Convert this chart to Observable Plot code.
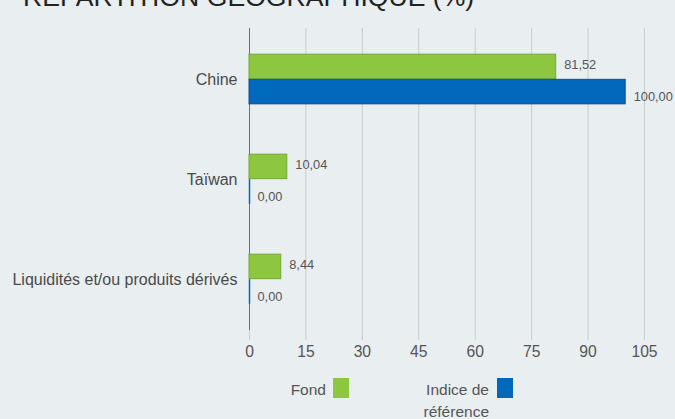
<!DOCTYPE html>
<html>
<head>
<meta charset="utf-8">
<script src="https://cdn.jsdelivr.net/npm/d3@7"></script>
<script src="https://cdn.jsdelivr.net/npm/@observablehq/plot@0.6"></script>
<style>
  html, body { margin: 0; padding: 0; }
  body { width: 675px; height: 419px; background: #e9eef1; position: relative; overflow: hidden;
         font-family: "Liberation Sans", Arial, sans-serif; }
  #title { position: absolute; left: 23px; top: -16.5px; font-size: 26.6px; line-height: 26.6px; color: #222; white-space: nowrap; }
  #chart { position: absolute; left: 0; top: 0; }
  .leg { position: absolute; font-size: 15.5px; color: #555; line-height: 22px; text-align: right; }
  .sw { position: absolute; width: 16px; height: 20px; }
</style>
</head>
<body>
<div id="title">RÉPARTITION GÉOGRAPHIQUE (%)</div>
<div id="chart"></div>
<div id="legend"></div>
<script>
const categories = ["Chine", "Taïwan", "Liquidités et/ou produits dérivés"];
const fondValues = [81.52, 10.04, 8.44];
const indiceValues = [100.00, 0.00, 0.00];
const seriesNames = ["Fond", "Indice de référence"];
const seriesColors = ["#8dc63f", "#0069bc"];
const seriesStrokes = ["#74a82f", "#0a4f92"];
const xTicks = [0, 15, 30, 45, 60, 75, 90, 105];

const fond = categories.map((c, i) => ({category: c, value: fondValues[i]}));
const indice = categories.map((c, i) => ({category: c, value: indiceValues[i]}));
const fmt = v => v.toFixed(2).replace(".", ",");

const H = 365, MT = 28, MB = 35;
const band = (H - MT - MB) / categories.length;

const chart = Plot.plot({
  width: 675,
  height: H,
  marginLeft: 249,
  marginRight: 31,
  marginTop: MT,
  marginBottom: MB,
  style: {background: "transparent", fontFamily: "Liberation Sans, Arial, sans-serif"},
  x: {domain: [0, 105]},
  y: {domain: categories, padding: 0},
  marks: [
    Plot.gridX(xTicks, {stroke: "#c9cccf", strokeOpacity: 1}),
    Plot.axisX({ticks: xTicks, tickSize: 10, tickPadding: 5, stroke: "#c9cccf", fill: "#555", fontSize: 15.7, label: null}),
    Plot.axisY({tickSize: 0, tickPadding: 12, fill: "#4a4a4a", fontSize: 16, label: null}),
    Plot.ruleX([0], {stroke: "#6f6f6f"}),
    Plot.barX(fond, {x: "value", y: "category", fill: seriesColors[0], stroke: seriesStrokes[0], strokeWidth: 1,
      insetTop: band * 0.25, insetBottom: band * 0.5}),
    Plot.barX(indice, {x: "value", y: "category", fill: seriesColors[1], stroke: seriesStrokes[1], strokeWidth: 1,
      insetTop: band * 0.5, insetBottom: band * 0.25}),
    Plot.tickX(indice.filter(d => d.value === 0), {x: "value", y: "category", stroke: seriesColors[1], strokeWidth: 1.5,
      insetTop: band * 0.5, insetBottom: band * 0.25}),
    Plot.text(fond, {x: "value", y: "category", text: d => fmt(d.value), textAnchor: "start", dx: 8, dy: -15,
      fill: "#555", fontSize: 12.8}),
    Plot.text(indice, {x: "value", y: "category", text: d => fmt(d.value), textAnchor: "start", dx: 8, dy: 17,
      fill: "#555", fontSize: 12.8})
  ]
});
document.getElementById("chart").appendChild(chart);

// Legend
const legend = document.getElementById("legend");
const legPos = [{textRight: 326, sw: 333, lines: ["Fond"]}, {textRight: 489, sw: 497, lines: ["Indice de", "référence"]}];
seriesNames.forEach((name, i) => {
  const t = document.createElement("div");
  t.className = "leg";
  t.style.right = (675 - legPos[i].textRight) + "px";
  t.style.top = "379px";
  t.innerHTML = legPos[i].lines.join("<br>");
  legend.appendChild(t);
  const s = document.createElement("div");
  s.className = "sw";
  s.style.left = legPos[i].sw + "px";
  s.style.top = "378px";
  s.style.background = seriesColors[i];
  legend.appendChild(s);
});
</script>
</body>
</html>
